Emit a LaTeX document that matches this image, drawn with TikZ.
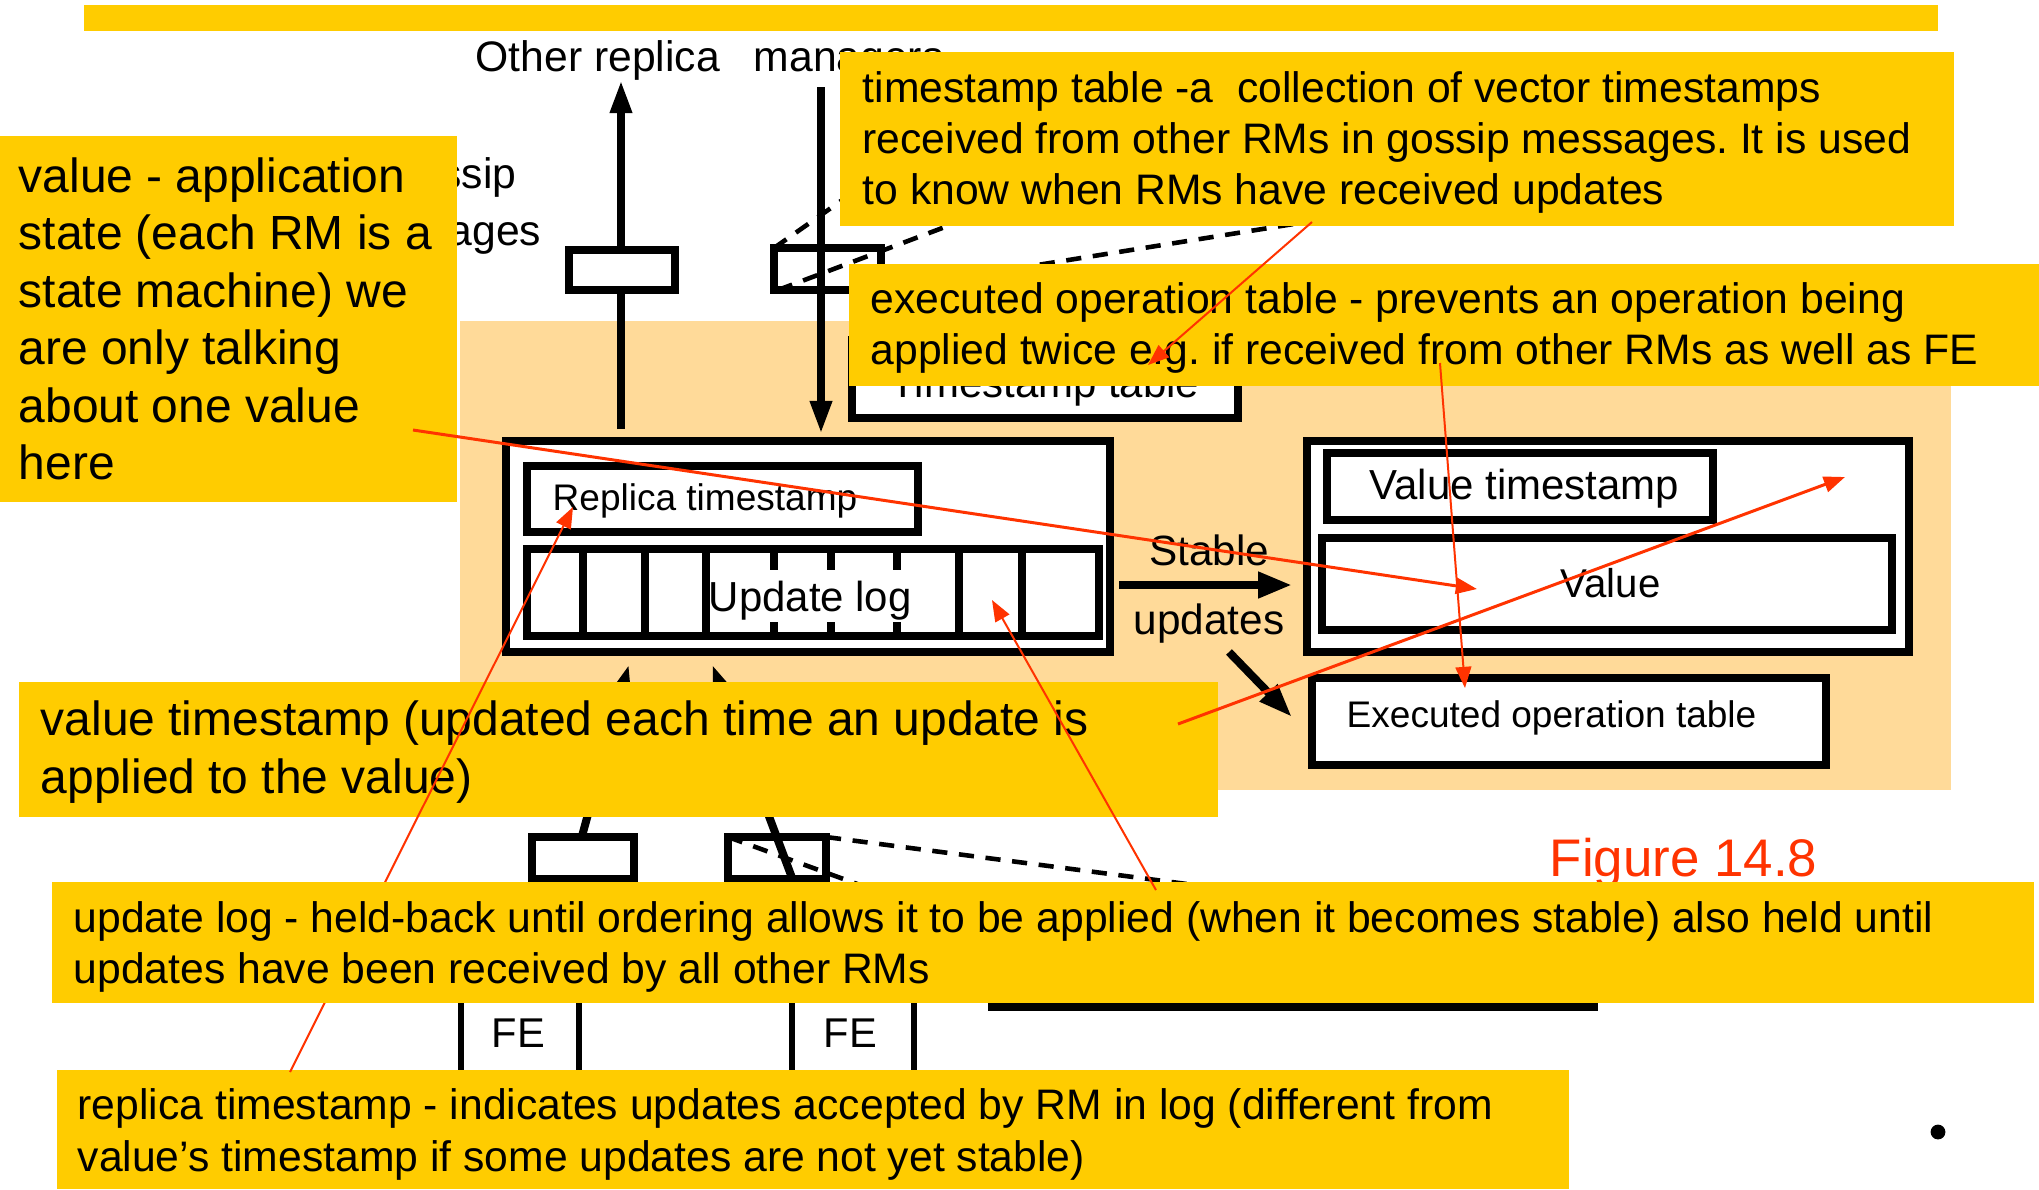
\documentclass[tikz,border=0pt]{standalone}
\usepackage{fontspec}
\setmainfont{Liberation Sans}
\usetikzlibrary{arrows.meta}
\definecolor{cy}{HTML}{FFCC00}
\definecolor{peach}{HTML}{FFDA99}
\definecolor{fr}{HTML}{FF3300}
\frenchspacing
\begin{document}
\begin{tikzpicture}[x=0.28355pt,y=-0.28355pt,
  lbl/.style={inner sep=0pt, anchor=base west},
  callout/.style={fill=cy},
  blkline/.style={line width=2.27pt},
  bxline/.style={draw=black, line width=2pt},
  febox/.style={draw=black, line width=1.7pt},
  dsh/.style={line width=1.3pt, dash pattern=on 4.3pt off 3.3pt},
  bigtip/.style={-{Triangle[length=9.4pt,width=5.8pt]}},
  redarrow/.style={draw=fr, line width=0.57pt, -{Triangle[length=6pt,width=4.5pt]}},
  redthick/.style={redarrow, line width=0.85pt},
  fA/.style={font=\fontsize{12.1pt}{14.6pt}\selectfont},
  fB/.style={font=\fontsize{13.6pt}{16.3pt}\selectfont},
  fS/.style={font=\fontsize{10.5pt}{12pt}\selectfont},
  fM/.style={font=\fontsize{11.9pt}{14pt}\selectfont}
]
\useasboundingbox (0,0) rectangle (2039,1189);
% top bar and background
\fill[cy] (84,5) rectangle (1938,31);
\fill[peach] (460,321) rectangle (1951,790);

% top labels
\node[lbl, fA] (orm) at (475,71) {Other replica\hspace{9.6pt}managers};
\node[inner sep=0pt, anchor=base east, fA] (gos) at (517,188) {Gossip};
\node[inner sep=0pt, anchor=base east, fA] (msg) at (542,245) {messages};

% named coordinates
\coordinate (upS) at (621,429);
\coordinate (upE) at (621,80);
\coordinate (dnS) at (821,87);
\coordinate (dnE) at (821,434);

% up arrow and gossip box 1
\draw[blkline, bigtip] (upS) -- (upE);
\draw[bxline, fill=white] (569,250) rectangle (675,290);
% down arrow and gossip box 2
\draw[blkline, bigtip] (dnS) -- (dnE);
\draw[bxline] (774,248) rectangle (881,290);
\coordinate (g2tl) at (774,248);
\coordinate (g2bl) at (778,290);
\coordinate (g2br) at (881,290);
\coordinate (hA) at (885,170);
\coordinate (hB) at (990,210);
\coordinate (hC) at (1600,175);
\draw[dsh] (g2tl) -- (hA);
\draw[dsh] (g2bl) -- (hB);
\draw[dsh] (g2br) -- (hC);

% timestamp table
\draw[bxline, fill=white] (852,340) rectangle (1238,418);
\node[inner sep=0pt, anchor=base, fM] (tst) at (1045,397) {Timestamp table};

% left RM box
\draw[bxline, line width=2.27pt, fill=white] (506,441) rectangle (1110,652);
\draw[bxline] (527,466) rectangle (918,532);
\node[lbl, fS] (rts) at (552,510) {Replica timestamp};
\draw[bxline] (527,549) rectangle (1099,636);
\foreach \bx in {583,645,774,831,897,959,1022}
  \draw[line width=2.2pt] (\bx,549) -- (\bx,636);
\node[lbl, fM, fill=white, inner xsep=0pt, inner ysep=0pt, text height=11.6pt, text depth=3.1pt] (ulog) at (708,611) {Update log};
\draw[line width=2.2pt] (706,549) -- (706,636);

% right RM box
\draw[bxline, line width=2.27pt, fill=white] (1307,441) rectangle (1909,652);
\draw[bxline] (1327,453) rectangle (1713,520);
\node[lbl, fM] (vts) at (1369,499) {Value timestamp};
\draw[bxline] (1322,538) rectangle (1892,630);
\node[lbl, font=\fontsize{11.4pt}{13pt}\selectfont] (val) at (1560,597) {Value};

% stable updates
\coordinate (stS) at (1119,585);
\coordinate (stE) at (1292,585);
\draw[blkline, -{Triangle[length=9.6pt,width=7pt]}] (stS) -- (stE);
\node[inner sep=0pt, anchor=base, font=\fontsize{12pt}{19.8pt}\selectfont] (stab) at (1209,565)
  {\vtop{\baselineskip=19.8pt\halign{\hfil#\hfil\cr Stable\cr updates\cr}}};
\coordinate (dgS) at (1229,652);
\coordinate (dgE) at (1292,717);
\draw[blkline, -{Triangle[length=9.6pt,width=6.5pt]}] (dgS) -- (dgE);

% executed operation table
\draw[bxline, fill=white] (1312,678) rectangle (1826,765);
\node[lbl, fS] (eot) at (1346,727) {Executed operation table};

% lower part
\coordinate (l1S) at (540,990);
\coordinate (l1E) at (629,664);
\coordinate (l2S) at (834,990);
\coordinate (l2E) at (712,664);
\draw[blkline, bigtip] (l1S) -- (l1E);
\draw[blkline, bigtip] (l2S) -- (l2E);
\draw[bxline, fill=white] (532,837) rectangle (634,879);
\draw[bxline] (728,837) rectangle (826,879);
\coordinate (b2tl) at (728,837);
\coordinate (b2tr) at (826,837);
\coordinate (rtl) at (992,933);
\coordinate (rtr) at (1594,937);
\draw[dsh] (b2tl) -- (rtl);
\draw[dsh] (b2tr) -- (rtr);
\draw[bxline] (992,933) rectangle (1594,1007);
\draw[febox] (461,960) rectangle (579,1110);
\draw[febox] (792,960) rectangle (914,1110);
\node[lbl, font=\fontsize{11.8pt}{14pt}\selectfont] (fe1) at (491,1047) {FE};
\node[lbl, font=\fontsize{11.8pt}{14pt}\selectfont] (fe2) at (823,1047) {FE};

\node[lbl, font=\fontsize{15pt}{18pt}\selectfont, text=fr] (fig) at (1549,876) {Figure 14.8};
\fill (1938,1132) circle (2.1pt);

% callouts
\fill[callout] (840,52) rectangle (1954,226);
\node[lbl, fA] (c1) at (862,102) {\vtop{\baselineskip=14.57pt
  \hbox{timestamp table -a\ \ collection of vector timestamps}
  \hbox{received from other RMs in gossip messages. It is used}
  \hbox{to know when RMs have received updates}}};
\fill[callout] (849,264) rectangle (2039,386);
\node[lbl, fA] (c2) at (870,313) {\vtop{\baselineskip=14.74pt
  \hbox{executed operation table - prevents an operation being}
  \hbox{applied twice e.g. if received from other RMs as well as FE}}};
\fill[callout] (0,136) rectangle (457,502);
\node[lbl, fB] (c3) at (18,192) {\vtop{\baselineskip=16.33pt
  \hbox{value - application}
  \hbox{state (each RM is a}
  \hbox{state machine) we}
  \hbox{are only talking}
  \hbox{about one value}
  \hbox{here}}};
\fill[callout] (19,682) rectangle (1218,817);
\node[lbl, fB] (c4) at (40,735) {\vtop{\baselineskip=16.45pt
  \hbox{value timestamp (updated each time an update is}
  \hbox{applied to the value)}}};
\fill[callout] (57,1070) rectangle (1569,1189);
\node[lbl, fA] (c6) at (77,1119) {\vtop{\baselineskip=14.74pt
  \hbox{replica timestamp - indicates updates accepted by RM in log (different from}
  \hbox{value’s timestamp if some updates are not yet stable)}}};

% red arrow of replica timestamp callout (under update log callout)
\coordinate (r4s) at (290,1072);
\coordinate (r4e) at (573,507);
\draw[redarrow] (r4s) -- (r4e);

\fill[callout] (52,882) rectangle (2034,1003);
\node[lbl, fA] (c5) at (73,932) {\vtop{\baselineskip=14.46pt
  \hbox{update log - held-back until ordering allows it to be applied (when it becomes stable) also held until}
  \hbox{updates have been received by all other RMs}}};

% other red arrows
\coordinate (r1s) at (413,430);
\coordinate (r1e) at (1477,589);
\coordinate (r2s) at (1312,222);
\coordinate (r2e) at (1148,365);
\coordinate (r3s) at (1178,724);
\coordinate (r3e) at (1845,477);
\coordinate (r5s) at (1156,890);
\coordinate (r5e) at (992,600);
\coordinate (r6s) at (1440,363);
\coordinate (r6e) at (1465,688);
\draw[redthick] (r1s) -- (r1e);
\draw[redarrow] (r2s) -- (r2e);
\draw[redthick] (r3s) -- (r3e);
\draw[redarrow] (r5s) -- (r5e);
\draw[redarrow] (r6s) -- (r6e);
\end{tikzpicture}
\end{document}
